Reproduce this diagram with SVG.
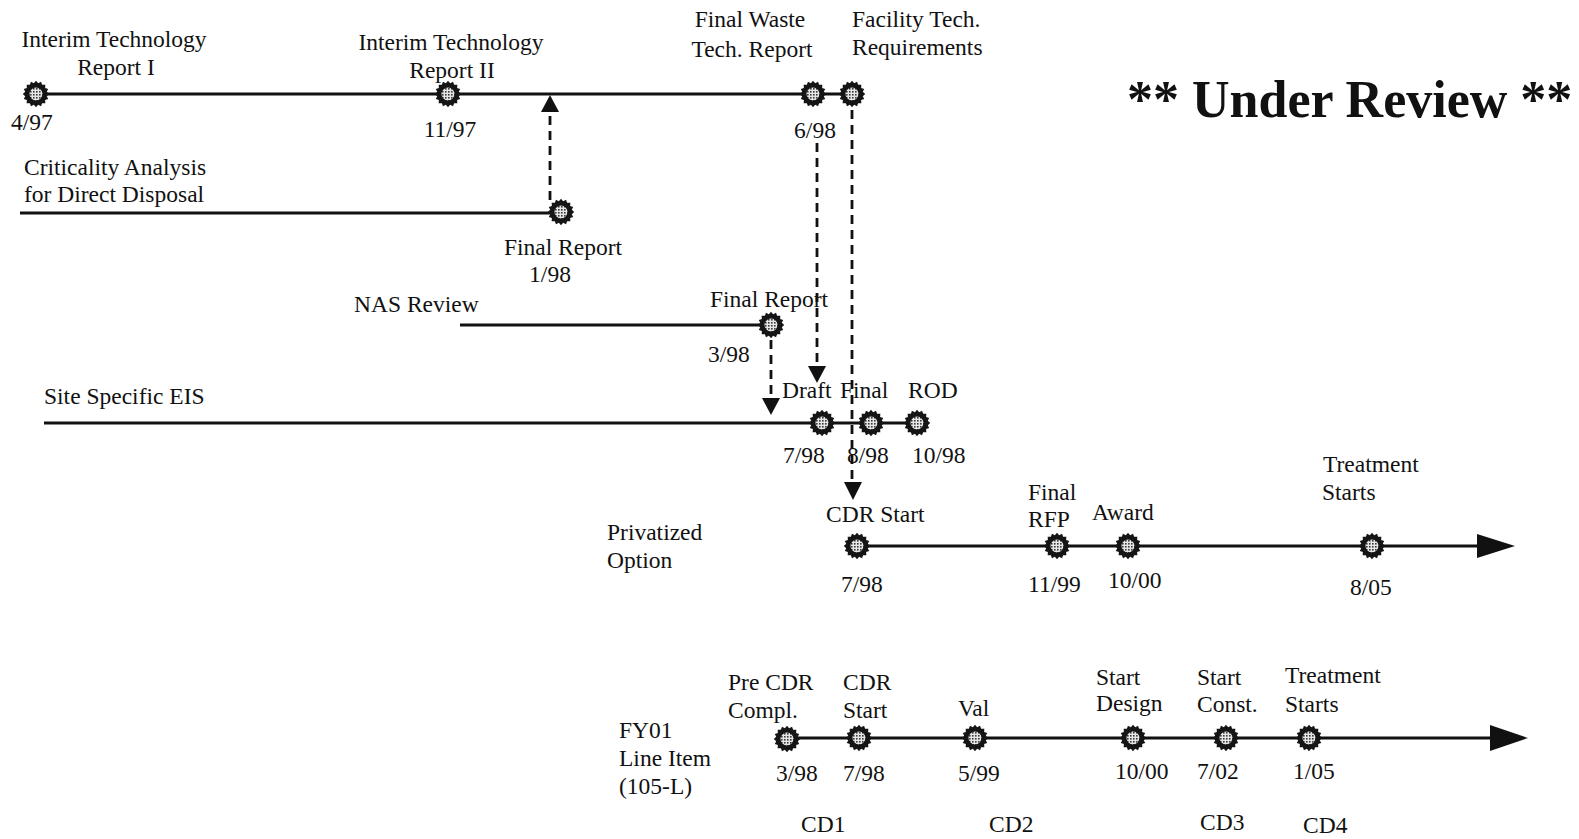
<svg xmlns="http://www.w3.org/2000/svg" xmlns:xlink="http://www.w3.org/1999/xlink" width="1579" height="839" viewBox="0 0 1579 839">
<style>
text{font-family:"Liberation Serif","Times New Roman",serif;font-size:23.5px;fill:#111}
.m{text-anchor:middle}
.title{font-size:52px;font-weight:bold}
.line{stroke:#111;stroke-width:2.8;fill:none}
.dash{stroke:#111;stroke-width:2.8;fill:none;stroke-dasharray:9 6}
.ah{fill:#111}
</style>
<defs>
<pattern id="dots" width="3" height="3" patternUnits="userSpaceOnUse">
<rect width="3" height="3" fill="#e6e6e6"/>
<rect width="1.6" height="1.6" fill="#3a3a3a"/>
</pattern>
<g id="mk">
<path transform="scale(1.1)" d="M12,0 L9.81,1.95 L11.09,4.59 L8.31,5.56 L8.49,8.49 L5.56,8.31 L4.59,11.09 L1.95,9.81 L0,12 L-1.95,9.81 L-4.59,11.09 L-5.56,8.31 L-8.49,8.49 L-8.31,5.56 L-11.09,4.59 L-9.81,1.95 L-12,0 L-9.81,-1.95 L-11.09,-4.59 L-8.31,-5.56 L-8.49,-8.49 L-5.56,-8.31 L-4.59,-11.09 L-1.95,-9.81 L0,-12 L1.95,-9.81 L4.59,-11.09 L5.56,-8.31 L8.49,-8.49 L8.31,-5.56 L11.09,-4.59 L9.81,-1.95 Z" fill="#151515"/>
<circle r="6.5" fill="url(#dots)"/>
</g>
</defs>

<g id="connectors">
<line class="line" x1="36" y1="94" x2="852" y2="94"/>
<line class="line" x1="20" y1="213" x2="561" y2="213"/>
<line class="line" x1="460" y1="325" x2="771" y2="325"/>
<line class="line" x1="44" y1="423" x2="917" y2="423"/>
<line class="line" x1="857" y1="546" x2="1480" y2="546"/>
<polygon class="ah" points="1477,534 1515,546 1477,558"/>
<line class="line" x1="787" y1="738" x2="1493" y2="738"/>
<polygon class="ah" points="1490,725 1528,738 1490,751"/>
<line class="dash" x1="550" y1="200" x2="550" y2="112"/>
<polygon class="ah" points="541,112 550,95 559,112"/>
<line class="dash" x1="817" y1="143" x2="817" y2="367"/>
<polygon class="ah" points="808,366 817,383 826,366"/>
<line class="dash" x1="852" y1="110" x2="852" y2="483"/>
<polygon class="ah" points="844,482 853,500 862,482"/>
<line class="dash" x1="771" y1="340" x2="771" y2="399"/>
<polygon class="ah" points="762,398 771,415 780,398"/>
</g>

<g id="title"><text class="title" x="1127" y="117">** Under Review **</text></g>

<g id="itr1"><use xlink:href="#mk" x="36" y="94"/>
<text class="m" x="114" y="47">Interim Technology</text><text class="m" x="116" y="75">Report I</text>
<text x="11" y="130">4/97</text></g>
<g id="itr2"><use xlink:href="#mk" x="448" y="94"/>
<text class="m" x="451" y="50">Interim Technology</text><text class="m" x="452" y="78">Report II</text>
<text class="m" x="450" y="137">11/97</text></g>
<g id="fwtr"><use xlink:href="#mk" x="813" y="94"/>
<text class="m" x="750" y="27">Final Waste</text><text class="m" x="752" y="57">Tech. Report</text>
<text class="m" x="815" y="138">6/98</text></g>
<g id="ftr"><use xlink:href="#mk" x="852" y="94"/>
<text x="852" y="27">Facility Tech.</text><text x="852" y="55">Requirements</text></g>

<g id="crit"><text x="24" y="175">Criticality Analysis</text><text x="24" y="202">for Direct Disposal</text></g>
<g id="crit-final"><use xlink:href="#mk" x="561" y="212"/>
<text class="m" x="563" y="255">Final Report</text><text class="m" x="550" y="282">1/98</text></g>

<g id="nas"><text x="354" y="312">NAS Review</text></g>
<g id="nas-final"><use xlink:href="#mk" x="771" y="325"/>
<text x="710" y="307">Final Report</text><text x="708" y="362">3/98</text></g>

<g id="eis"><text x="44" y="404">Site Specific EIS</text></g>
<g id="eis-draft"><use xlink:href="#mk" x="822" y="423"/><text x="782" y="398">Draft</text><text x="783" y="463">7/98</text></g>
<g id="eis-final"><use xlink:href="#mk" x="871" y="423"/><text x="840" y="398">Final</text><text x="847" y="463">8/98</text></g>
<g id="eis-rod"><use xlink:href="#mk" x="917" y="423"/><text x="908" y="398">ROD</text><text x="912" y="463">10/98</text></g>

<g id="priv"><text x="607" y="540">Privatized</text><text x="607" y="568">Option</text></g>
<g id="priv-cdr"><use xlink:href="#mk" x="857" y="546"/><text x="826" y="522">CDR Start</text><text x="841" y="592">7/98</text></g>
<g id="priv-rfp"><use xlink:href="#mk" x="1057" y="546"/><text x="1028" y="500">Final</text><text x="1028" y="527">RFP</text><text x="1028" y="592">11/99</text></g>
<g id="priv-award"><use xlink:href="#mk" x="1128" y="546"/><text x="1092" y="520">Award</text><text x="1108" y="588">10/00</text></g>
<g id="priv-treat"><use xlink:href="#mk" x="1372" y="546"/><text x="1323" y="472">Treatment</text><text x="1322" y="500">Starts</text><text x="1350" y="595">8/05</text></g>

<g id="fy01"><text x="619" y="738">FY01</text><text x="619" y="766">Line Item</text><text x="619" y="794">(105-L)</text></g>
<g id="fy-pre"><use xlink:href="#mk" x="787" y="739"/><text x="728" y="690">Pre CDR</text><text x="728" y="718">Compl.</text><text x="776" y="781">3/98</text></g>
<g id="fy-cdr"><use xlink:href="#mk" x="859" y="738"/><text x="843" y="690">CDR</text><text x="843" y="718">Start</text><text x="843" y="781">7/98</text></g>
<g id="fy-val"><use xlink:href="#mk" x="975" y="738"/><text x="958" y="716">Val</text><text x="958" y="781">5/99</text></g>
<g id="fy-design"><use xlink:href="#mk" x="1133" y="738"/><text x="1096" y="685">Start</text><text x="1096" y="711">Design</text><text x="1115" y="779">10/00</text></g>
<g id="fy-const"><use xlink:href="#mk" x="1226" y="738"/><text x="1197" y="685">Start</text><text x="1197" y="712">Const.</text><text x="1197" y="779">7/02</text></g>
<g id="fy-treat"><use xlink:href="#mk" x="1309" y="738"/><text x="1285" y="683">Treatment</text><text x="1285" y="712">Starts</text><text x="1293" y="779">1/05</text></g>
<g id="cd"><text x="801" y="832">CD1</text><text x="989" y="832">CD2</text><text x="1200" y="830">CD3</text><text x="1303" y="833">CD4</text></g>
</svg>
